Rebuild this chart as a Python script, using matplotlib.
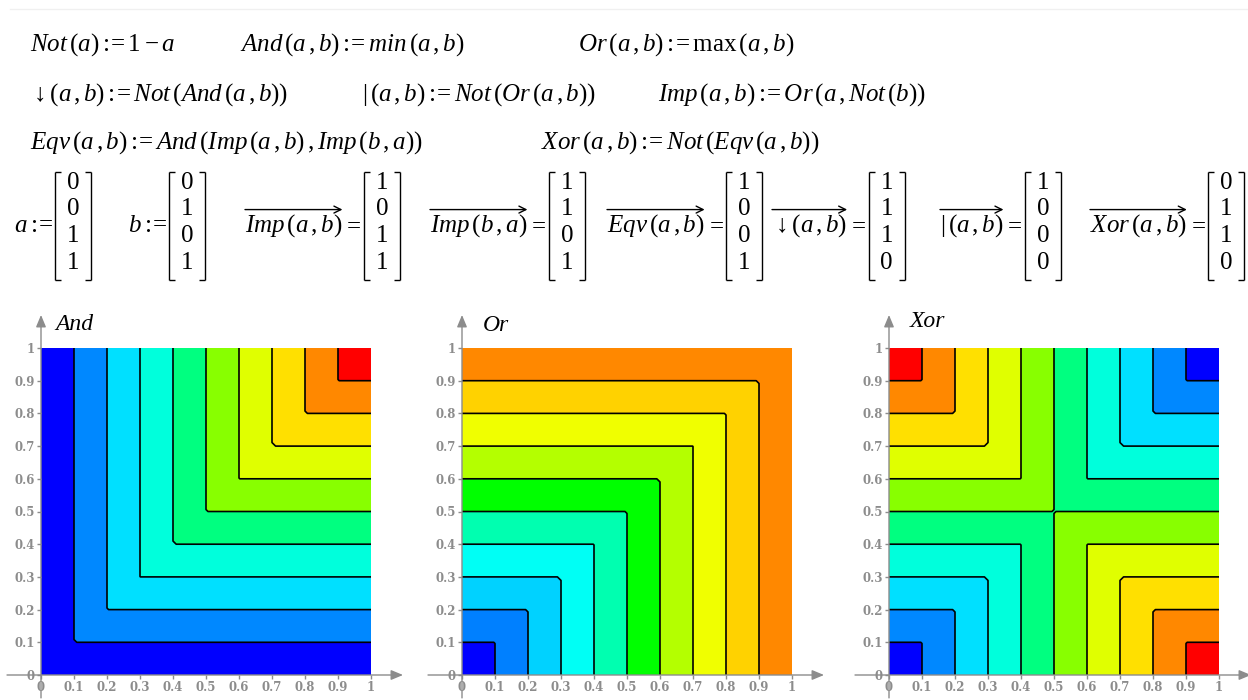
import matplotlib
matplotlib.use("Agg")
import matplotlib.pyplot as plt
import numpy as np
from matplotlib.lines import Line2D
from matplotlib.patches import FancyArrowPatch

W, H = 1248, 700
FS = 18
GRAY = "#8c8c8c"

plt.rcParams.update(
    {
        "font.family": "Liberation Serif",
        "mathtext.fontset": "custom",
        "mathtext.rm": "Liberation Serif",
        "mathtext.it": "Liberation Serif:italic",
        "mathtext.bf": "Liberation Serif:bold",
    }
)

# input vectors
a = np.array([0, 0, 1, 1])
b = np.array([0, 1, 0, 1])

# axis ticks and band colours of the contour maps
tick_vals = [0, 0.1, 0.2, 0.3, 0.4, 0.5, 0.6, 0.7, 0.8, 0.9, 1]
tick_labels = ["0", "0.1", "0.2", "0.3", "0.4", "0.5", "0.6", "0.7", "0.8", "0.9", "1"]
and_colors = ["#0000ff", "#0088ff", "#00e0ff", "#00ffdc", "#00ff80",
              "#88ff00", "#e0ff00", "#ffe000", "#ff8800", "#ff0000"]
or_colors = ["#0000ff", "#0080ff", "#00d2ff", "#00fff5", "#00ffb0",
             "#00ff00", "#b4ff00", "#f0ff00", "#ffd200", "#ff8800"]
xor_colors = and_colors


def f_not(x):
    return 1 - x


def f_and(x, y):
    return np.minimum(x, y)


def f_or(x, y):
    return np.maximum(x, y)


def f_imp(x, y):
    return f_or(x, f_not(y))


def f_eqv(x, y):
    return f_and(f_imp(x, y), f_imp(y, x))


def f_xor(x, y):
    return f_not(f_eqv(x, y))


def f_nand(x, y):
    return f_not(f_and(x, y))


def f_nor(x, y):
    return f_not(f_or(x, y))


fig = plt.figure(figsize=(W / 100, H / 100), dpi=100)
renderer = fig.canvas.get_renderer()


def put(px, py, s, ha="left", **kw):
    kw.setdefault("fontsize", FS)
    t = fig.text(px / W, 1 - py / H, s, ha=ha, va="center", **kw)
    return t.get_window_extent(renderer)


def hline(x0, x1, y, **kw):
    fig.add_artist(Line2D([x0 / W, x1 / W], [1 - y / H, 1 - y / H], **kw))


def vline(x, y0, y1, **kw):
    fig.add_artist(Line2D([x / W, x / W], [1 - y0 / H, 1 - y1 / H], **kw))


# faint rule at the top of the sheet
hline(10, W, 9, color="#f0f0f0", lw=1)

# definitions
defs = [
    (30, 45, r"$Not\,(a):\!\!=1-a$"),
    (240, 45, r"$And\,(a\,,b):\!\!=min\,(a\,,b)$"),
    (578, 45, r"$Or\,(a\,,b):\!\!=\mathrm{max}\,(a\,,b)$"),
    (30, 95, r"$\downarrow(a\,,b):\!\!=Not\,(And\,(a\,,b))$"),
    (362, 95, r"$|\,(a\,,b):\!\!=Not\,(Or\,(a\,,b))$"),
    (658, 95, r"$Imp\,(a\,,b):\!\!=Or\,(a\,,Not\,(b))$"),
    (30, 143, r"$Eqv\,(a\,,b):\!\!=And\,(Imp\,(a\,,b)\,,Imp\,(b\,,a))$"),
    (541, 143, r"$Xor\,(a\,,b):\!\!=Not\,(Eqv\,(a\,,b))$"),
]
for x, y, s in defs:
    put(x, y, s)

# column vectors
row_y = [183, 209, 236, 263]
br_top, br_bot = 172, 280


def column(xl, values):
    kw = dict(color="black", lw=1.0, solid_capstyle="butt")
    xr = xl + 36
    vline(xl, br_top, br_bot, **kw)
    hline(xl, xl + 6, br_top, **kw)
    hline(xl, xl + 6, br_bot, **kw)
    vline(xr, br_top, br_bot, **kw)
    hline(xr - 6, xr, br_top, **kw)
    hline(xr - 6, xr, br_bot, **kw)
    for v, y in zip(values, row_y):
        put(xl + 18, y, f"{v:g}", ha="center")


vec_y = 226
bb = put(14, vec_y, r"$a:\!\!=$")
column(bb.x1 + 2, a)
bb = put(128, vec_y, r"$b:\!\!=$")
column(bb.x1 + 2, b)

results = [
    (245, r"$Imp\,(a\,,b)$", f_imp(a, b)),
    (430, r"$Imp\,(b\,,a)$", f_imp(b, a)),
    (607, r"$Eqv\,(a\,,b)$", f_eqv(a, b)),
    (772, r"$\downarrow(a\,,b)$", f_nand(a, b)),
    (940, r"$|\,(a\,,b)$", f_nor(a, b)),
    (1090, r"$Xor\,(a\,,b)$", f_xor(a, b)),
]
for x, s, vals in results:
    bb = put(x, vec_y, s)
    ya = 1 - (H - bb.y1 - 3) / H
    fig.add_artist(
        FancyArrowPatch(
            (bb.x0 / W, ya), (bb.x1 / W, ya), transform=fig.transFigure,
            arrowstyle="->,head_length=0.5,head_width=0.25",
            mutation_scale=10, lw=1.0, color="black",
            shrinkA=0, shrinkB=0,
        )
    )
    bb2 = put(bb.x1 + 1, vec_y, r"$=$")
    column(bb2.x1 + 2, vals)

# contour maps
grid = np.linspace(0, 1, 84)
A, B = np.meshgrid(grid, grid)
levels = tick_vals
panels = [
    (41, "And", 0.042, 1.072, f_and(A, B), and_colors),
    (462, "Or", 0.064, 1.068, f_or(A, B), or_colors),
    (889, "Xor", 0.064, 1.082, f_xor(A, B), xor_colors),
]
for left, title, tx, ty, Z, colors in panels:
    ax = fig.add_axes([left / W, 25 / H, 330 / W, 327 / H])
    ax.contourf(A, B, Z, levels=levels, colors=colors)
    ax.contour(A, B, Z, levels=levels[1:-1], colors="black", linewidths=1.2)
    ax.set_xlim(0, 1)
    ax.set_ylim(0, 1)
    for sp in ax.spines.values():
        sp.set_visible(False)
    ax.set_xticks(tick_vals, tick_labels)
    ax.set_yticks(tick_vals, tick_labels)
    ax.tick_params(direction="out", length=3, width=1, color=GRAY,
                   labelcolor=GRAY, pad=1.5)
    for lab in ax.get_xticklabels() + ax.get_yticklabels():
        lab.set_fontfamily("DejaVu Serif")
        lab.set_fontweight("bold")
        lab.set_fontsize(8.5)
    arrow = dict(arrowstyle="-|>,head_length=0.6,head_width=0.25",
                 color=GRAY, lw=1.0, shrinkA=0, shrinkB=0, mutation_scale=12)
    ax.annotate("", xy=(1.097, 0), xytext=(-0.103, 0), arrowprops=arrow,
                annotation_clip=False)
    ax.annotate("", xy=(0, 1.101), xytext=(0, -0.07), arrowprops=arrow,
                annotation_clip=False)
    ax.text(tx, ty, title, fontsize=17, fontstyle="italic", va="center",
            ha="left", clip_on=False)

fig.savefig("out.png", dpi=100, facecolor="white")
